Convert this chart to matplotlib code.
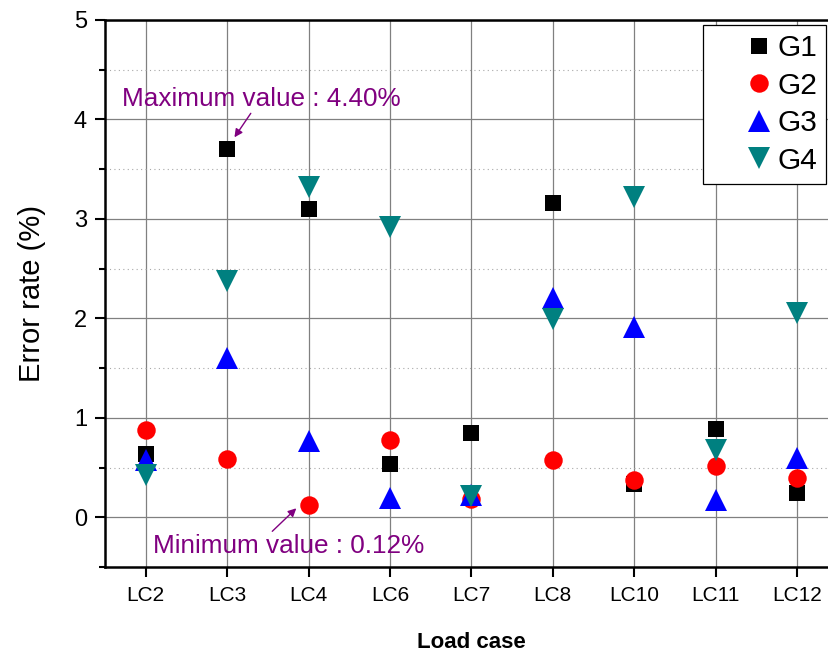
import numpy as np
import matplotlib
matplotlib.use('Agg')
import matplotlib.pyplot as plt
from matplotlib.legend_handler import HandlerLine2D
from matplotlib.ticker import MultipleLocator

load_cases = ['LC2', 'LC3', 'LC4', 'LC6', 'LC7', 'LC8', 'LC10', 'LC11', 'LC12']
g1 = [0.64, 3.70, 3.10, 0.54, 0.85, 3.16, 0.33, 0.89, 0.24]
g2 = [0.88, 0.59, 0.12, 0.78, 0.18, 0.58, 0.37, 0.52, 0.39]
g3 = [0.58, 1.60, 0.77, 0.19, 0.22, 2.20, 1.91, 0.17, 0.60]
g4 = [0.42, 2.38, 3.32, 2.92, 0.21, 1.99, 3.22, 0.68, 2.05]

series = [
    ('G1', g1, 's', 'black', 12.2),
    ('G2', g2, 'o', 'red', 13.3),
    ('G3', g3, '^', 'blue', 15.5),
    ('G4', g4, 'v', '#008080', 15.5),
]

plt.rcParams['font.family'] = ['Liberation Sans', 'DejaVu Sans']


class RightMarker(HandlerLine2D):
    # single marker drawn at the middle of xdata, so shift xdata to the right
    def get_xdata(self, legend, xdescent, ydescent, width, height, fontsize):
        xdata = [-xdescent + 0.68 * width, -xdescent + width]
        return xdata, [-xdescent + 0.84 * width]


def main():
    fig = plt.figure(figsize=(8.29, 6.55), dpi=100)
    ax = fig.add_axes([0.1267, 0.1344, 0.8837, 0.8351])
    x = np.arange(1, len(load_cases) + 1)

    for name, vals, mk, col, ms in series:
        ax.plot(x, vals, linestyle='none', marker=mk, color=col,
                markersize=ms, markeredgewidth=0, label=name, zorder=3,
                clip_on=False)

    ax.set_xlim(0.5, 9.5)
    ax.set_ylim(-0.5, 5)
    ax.set_xticks(x)
    ax.set_xticklabels(load_cases, fontsize=15)
    ax.set_yticks([0, 1, 2, 3, 4, 5])
    ax.yaxis.set_minor_locator(MultipleLocator(0.5))
    ax.tick_params(axis='y', which='major', labelsize=17, length=7.5,
                   width=1.5, direction='out', pad=5.5)
    ax.tick_params(axis='y', which='minor', length=4, width=1.5,
                   direction='out')
    ax.tick_params(axis='x', which='major', length=7, width=1.5,
                   direction='out', pad=7)

    ax.grid(True, which='major', axis='both', color='#808080', linewidth=0.9,
            zorder=0)
    ax.grid(True, which='minor', axis='y', color='#a8a8a8', linewidth=0.8,
            linestyle=(0, (1, 3)), zorder=0)
    ax.set_axisbelow(True)

    for side in ['left', 'bottom', 'top']:
        ax.spines[side].set_linewidth(1.8)
    ax.spines['right'].set_visible(False)

    ax.set_xlabel('Load case', fontsize=16, fontweight='bold', labelpad=19)
    ax.set_ylabel('Error rate (%)', fontsize=21, labelpad=20)

    purple = '#800080'
    ax.annotate('Maximum value : 4.40%', xy=(2.09, 3.82), xytext=(0.705, 4.21),
                fontsize=18.8, color=purple, va='center', ha='left',
                arrowprops=dict(arrowstyle='-|>', color=purple, lw=1,
                                mutation_scale=12, shrinkA=0, shrinkB=0,
                                relpos=(0.47, 0.0)))
    ax.annotate('Minimum value : 0.12%', xy=(2.85, 0.09), xytext=(1.086, -0.29),
                fontsize=18.8, color=purple, va='center', ha='left',
                arrowprops=dict(arrowstyle='-|>', color=purple, lw=1,
                                mutation_scale=12, shrinkA=0, shrinkB=0,
                                relpos=(0.43, 1.0)))

    leg = ax.legend(loc='upper right', bbox_to_anchor=(826 / 829, 1 - 25 / 655),
                    bbox_transform=fig.transFigure, borderaxespad=0,
                    fontsize=21.5, frameon=True, fancybox=False,
                    edgecolor='black', framealpha=1, handletextpad=0.3,
                    labelspacing=0.32, borderpad=0.3, handlelength=1.9,
                    handler_map={plt.Line2D: RightMarker()})
    leg.get_frame().set_linewidth(0.9)

    fig.savefig('out.png', dpi=100)


if __name__ == '__main__':
    main()
